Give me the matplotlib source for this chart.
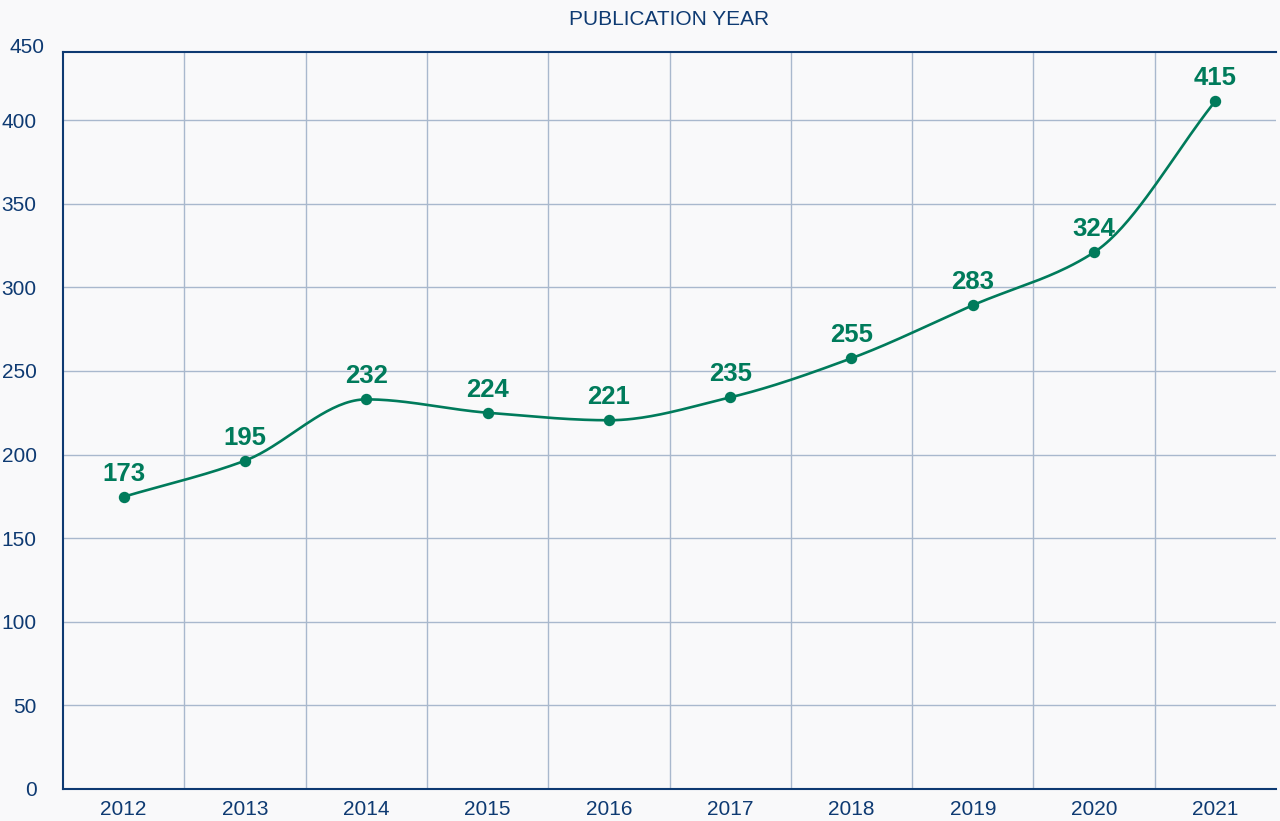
import numpy as np
import matplotlib
matplotlib.use("Agg")
import matplotlib.pyplot as plt

years = ["2012", "2013", "2014", "2015", "2016", "2017", "2018", "2019", "2020", "2021"]
# plotted positions
values = [174.7, 196.3, 233.0, 225.0, 220.5, 234.2, 257.6, 289.3, 321.0, 411.5]
# labels printed above the points
labels = ["173", "195", "232", "224", "221", "235", "255", "283", "324", "415"]
yticks = [0, 50, 100, 150, 200, 250, 300, 350, 400]
top_tick = "450"

NAVY = "#0e3a72"
GREEN = "#007b5b"
GRID = "#a9b8cd"
BG = "#f9f9fa"

plt.rcParams['font.family'] = ['Liberation Sans', 'DejaVu Sans']


def pchip(x, y, n=40):
    x = np.asarray(x, float)
    y = np.asarray(y, float)
    h = np.diff(x)
    d = np.diff(y) / h
    m = np.zeros_like(y)
    for k in range(1, len(y) - 1):
        if d[k - 1] * d[k] <= 0:
            m[k] = 0.0
        else:
            w1 = 2 * h[k] + h[k - 1]
            w2 = h[k] + 2 * h[k - 1]
            m[k] = (w1 + w2) / (w1 / d[k - 1] + w2 / d[k])
    m[0] = d[0]
    m[-1] = d[-1]
    xs, ys = [], []
    for k in range(len(x) - 1):
        t = np.linspace(0, 1, n, endpoint=(k == len(x) - 2))
        h00 = 2 * t**3 - 3 * t**2 + 1
        h10 = t**3 - 2 * t**2 + t
        h01 = -2 * t**3 + 3 * t**2
        h11 = t**3 - t**2
        xs.append(x[k] + t * h[k])
        ys.append(h00 * y[k] + h10 * h[k] * m[k] + h01 * y[k + 1] + h11 * h[k] * m[k + 1])
    return np.concatenate(xs), np.concatenate(ys)


fig = plt.figure(figsize=(12.8, 8.21), dpi=100)
fig.patch.set_facecolor(BG)
ax = fig.add_axes([63 / 1280, 1 - 788.7 / 821, (1276 - 63) / 1280, (788.7 - 52.3) / 821])
ax.set_facecolor(BG)

x = np.arange(len(years))
sx, sy = pchip(x, values)
ax.plot(sx, sy, color=GREEN, lw=1.9, zorder=3, solid_capstyle='round')
ax.plot(x, values, 'o', color=GREEN, ms=7.2, zorder=4)

for xi, v, lab in zip(x, values, labels):
    ax.annotate(lab, (xi, v), xytext=(0, 8), textcoords='offset points',
                ha='center', va='bottom', fontsize=18.5, fontweight='bold',
                color=GREEN, zorder=5)

ax.set_xlim(-0.5, len(years) - 0.5)
ax.set_ylim(0, 440.7)

ax.set_xticks(x)
ax.set_xticklabels(years)
ax.set_xticks(np.arange(0.5, len(years) - 0.5, 1), minor=True)
ax.set_yticks(yticks)
ax.tick_params(axis='both', which='both', length=0, colors=NAVY, labelsize=15)
ax.tick_params(axis='y', pad=19)
ax.tick_params(axis='x', pad=8)
# top label sits just above the plot frame
ax.annotate(top_tick, (0, 1), xycoords='axes fraction', xytext=(-19 * 0.72, 5 * 0.72),
            textcoords='offset points', ha='right', va='center',
            fontsize=15, color=NAVY, annotation_clip=False)

ax.grid(True, axis='y', which='major', color=GRID, lw=1)
ax.grid(True, axis='x', which='minor', color=GRID, lw=1)
ax.grid(False, axis='x', which='major')
ax.set_axisbelow(True)

for s in ['left', 'bottom', 'top']:
    ax.spines[s].set_color(NAVY)
    ax.spines[s].set_linewidth(1.5)
ax.spines['right'].set_visible(False)

ax.set_title("PUBLICATION YEAR", fontsize=15, color=NAVY, pad=20)

fig.savefig("out.png", dpi=100, facecolor=BG)
